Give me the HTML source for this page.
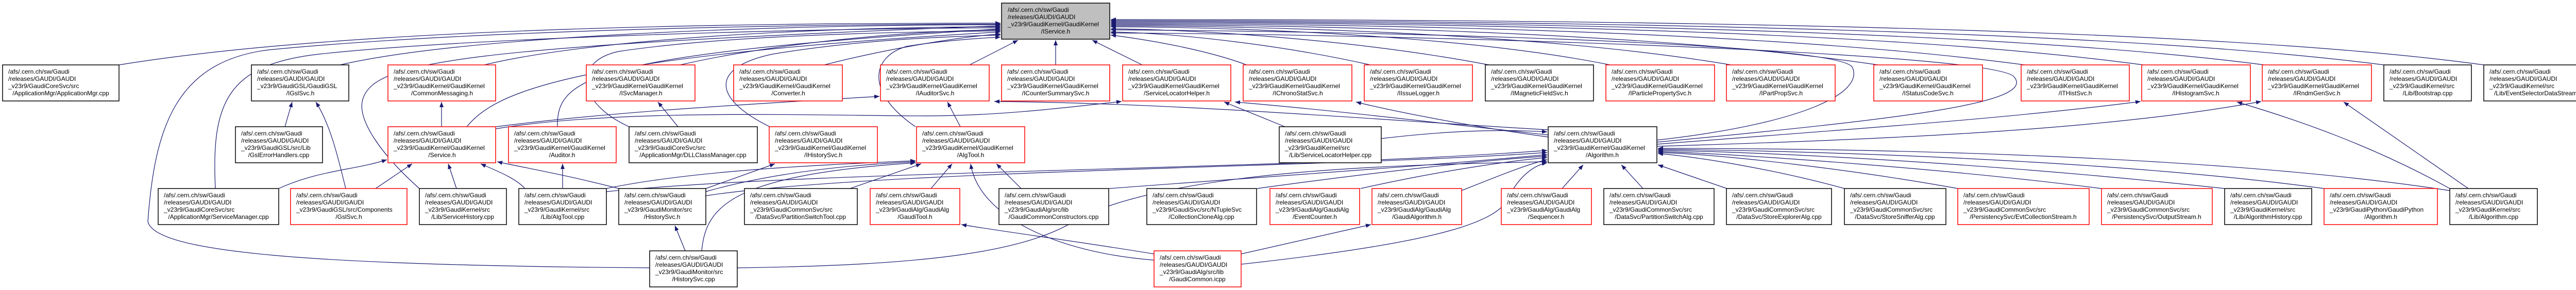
<!DOCTYPE html>
<html><head><meta charset="utf-8"><style>
html,body{margin:0;padding:0;background:#fff;}
svg{display:block;}
text{font-family:"Liberation Sans",Arial,sans-serif;font-size:12px;fill:#000;}
.e{fill:none;stroke:#191970;stroke-width:1.2;marker-end:url(#a);}
</style></head><body>
<svg width="5051" height="563" viewBox="0 0 5051 563" xmlns="http://www.w3.org/2000/svg">
<defs><marker id="a" markerWidth="11" markerHeight="8" refX="10" refY="4" orient="auto" markerUnits="userSpaceOnUse"><path d="M0,0 L10,4 L0,8z" fill="#191970"/></marker></defs>
<g id="edges">
<!-- row1 -> IService -->
<path class="e" d="M231,126 C700,50 1500,45 1942,45"/>
<path class="e" d="M660,126 C900,70 1500,48 1942,48"/>
<path class="e" d="M940,126 C1150,75 1600,52 1942,52"/>
<path class="e" d="M1320,126 C1500,85 1750,60 1942,58"/>
<path class="e" d="M1600,126 C1700,100 1850,72 1942,66"/>
<path class="e" d="M1882,126 L1976,78"/>
<path class="e" d="M2049,126 L2049,78"/>
<path class="e" d="M2217,126 L2120,78"/>
<path class="e" d="M2420,126 C2350,100 2250,80 2156,68"/>
<path class="e" d="M2660,126 C2500,90 2300,65 2156,62"/>
<path class="e" d="M2890,126 C2650,80 2350,58 2156,56"/>
<path class="e" d="M3125,126 C2850,70 2400,52 2156,52"/>
<path class="e" d="M3360,126 C3000,65 2450,50 2156,50"/>
<path class="e" d="M3645,126 C3200,60 2500,48 2156,48"/>
<path class="e" d="M3930,126 C3400,55 2550,46 2156,46"/>
<path class="e" d="M4160,126 C3600,50 2600,44 2156,44"/>
<path class="e" d="M4395,126 C3800,48 2650,42 2156,42"/>
<path class="e" d="M4627,126 C4000,45 2700,40 2156,40"/>
<path class="e" d="M4821,126 C4200,40 2750,38 2156,38"/>
<!-- others -> IService -->
<path class="e" d="M418,366 C410,200 440,125 620,105 C900,75 1500,56 1942,54"/>
<path class="e" d="M814,366 C740,300 690,230 705,190 C730,120 900,90 1942,50"/>
<path class="e" d="M1261,520 C600,515 300,490 287,430 C300,250 340,120 520,97 C900,60 1500,47 1942,47"/>
<path class="e" d="M906,246 C960,180 1100,110 1942,62"/>
<path class="e" d="M1082,246 C1080,150 1150,105 1942,56"/>
<path class="e" d="M1221,246 C1120,200 1110,120 1200,100 C1400,70 1700,62 1942,60"/>
<path class="e" d="M1494,246 C1380,190 1380,130 1500,105 C1650,80 1800,72 1942,68"/>
<path class="e" d="M1777,246 C1680,180 1690,110 1760,90 C1820,80 1900,74 1942,72"/>
<path class="e" d="M3216,272 C3500,240 3620,180 3595,130 C3560,80 2600,60 2156,58"/>
<path class="e" d="M3216,276 C3700,230 3950,200 3910,150 C3880,100 2700,66 2156,64"/>
<!-- row2 -> row1 -->
<path class="e" d="M553,246 L567,198"/>
<path class="e" d="M671,366 C655,300 640,240 613,198"/>
<path class="e" d="M857,246 L857,198"/>
<path class="e" d="M963,246 C1200,215 1500,200 1707,187"/>
<path class="e" d="M963,250 C1200,210 1600,225 1800,225 C1950,225 2100,205 2177,197"/>
<path class="e" d="M1316,246 L1277,198"/>
<path class="e" d="M1864,246 L1839,198"/>
<path class="e" d="M3005,252 C2700,235 2300,200 1930,197"/>
<path class="e" d="M2494,246 L2376,198"/>
<path class="e" d="M3005,262 C2800,240 2600,215 2397,198"/>
<path class="e" d="M3005,266 C2850,245 2700,215 2632,198"/>
<path class="e" d="M3216,280 C3600,250 3900,230 4155,197"/>
<path class="e" d="M3216,284 C3700,270 4100,250 4389,197"/>
<path class="e" d="M4791,366 L4549,198"/>
<path class="e" d="M4755,366 C4600,280 4450,230 4342,198"/>
<path class="e" d="M2681,269 C2800,255 2900,250 3003,256"/>
<!-- row3 -> row2 -->
<path class="e" d="M541,366 C620,330 690,330 751,310"/>
<path class="e" d="M729,366 L800,318"/>
<path class="e" d="M886,366 L870,318"/>
<path class="e" d="M1019,366 C1000,345 960,330 933,318"/>
<path class="e" d="M1201,366 C1100,340 1040,330 965,314"/>
<path class="e" d="M1092,366 L1092,318"/>
<path class="e" d="M1177,366 C1350,330 1600,320 1777,312"/>
<path class="e" d="M1370,366 L1504,318"/>
<path class="e" d="M1370,372 C1500,335 1650,320 1777,314"/>
<path class="e" d="M1650,366 L1788,318"/>
<path class="e" d="M1807,366 L1848,318"/>
<path class="e" d="M1982,366 L1934,318"/>
<path class="e" d="M1177,372 C1600,330 2500,330 3003,292"/>
<path class="e" d="M1370,380 C1700,330 2600,325 3003,296"/>
<path class="e" d="M2153,366 C2500,340 2800,320 3003,300"/>
<path class="e" d="M2440,366 C2700,330 2900,310 3003,303"/>
<path class="e" d="M2641,366 C2800,330 2950,310 3003,306"/>
<path class="e" d="M2837,370 C2900,345 2960,320 3003,310"/>
<path class="e" d="M3032,366 L3073,320"/>
<path class="e" d="M3189,366 L3147,320"/>
<path class="e" d="M3352,366 L3218,320"/>
<path class="e" d="M3580,366 C3450,330 3300,305 3218,298"/>
<path class="e" d="M3800,366 C3600,330 3350,300 3218,296"/>
<path class="e" d="M4079,366 C3800,330 3400,300 3218,294"/>
<path class="e" d="M4318,366 C3900,320 3450,295 3218,292"/>
<path class="e" d="M4511,366 C4100,310 3500,292 3218,290"/>
<path class="e" d="M4755,370 C4300,300 3600,288 3218,288"/>
<!-- row4 -->
<path class="e" d="M1330,487 L1310,438"/>
<path class="e" d="M1362,487 C1370,400 1420,340 1777,316"/>
<path class="e" d="M1431,520 C1800,515 2000,490 2100,420 C2300,330 2700,320 3003,314"/>
<path class="e" d="M2240,493 C2100,470 1950,450 1866,436"/>
<path class="e" d="M2240,505 C2050,490 1900,420 1884,318"/>
<path class="e" d="M2409,493 L2661,436"/>
<path class="e" d="M2409,513 C2800,470 2912,430 2930,380 C2950,340 2980,320 3003,316"/>
</g>
<g id="boxes" stroke-width="1.5">
<rect x="1944" y="6" width="210" height="70" fill="#bfbfbf" stroke="#000"/>
<text x="1956" y="23">/afs/.cern.ch/sw/Gaudi</text><text x="1956" y="37">/releases/GAUDI/GAUDI</text><text x="1956" y="51">_v23r9/GaudiKernel/GaudiKernel</text><text x="2049" y="65" text-anchor="middle">/IService.h</text>
</g>
<g id="nodes" stroke-width="1.5">
<!-- generated boxes -->
<rect x="5" y="126" width="226" height="70" fill="#fff" stroke="#000"/><text x="16" y="143">/afs/.cern.ch/sw/Gaudi</text><text x="16" y="157">/releases/GAUDI/GAUDI</text><text x="16" y="171">_v23r9/GaudiCoreSvc/src</text><text x="118" y="185" text-anchor="middle">/ApplicationMgr/ApplicationMgr.cpp</text>
<rect x="488" y="126" width="189" height="70" fill="#fff" stroke="#000"/><text x="499" y="143">/afs/.cern.ch/sw/Gaudi</text><text x="499" y="157">/releases/GAUDI/GAUDI</text><text x="499" y="171">_v23r9/GaudiGSL/GaudiGSL</text><text x="583" y="185" text-anchor="middle">/IGslSvc.h</text>
<rect x="753" y="126" width="209" height="70" fill="#fff" stroke="#f00"/><text x="764" y="143">/afs/.cern.ch/sw/Gaudi</text><text x="764" y="157">/releases/GAUDI/GAUDI</text><text x="764" y="171">_v23r9/GaudiKernel/GaudiKernel</text><text x="858" y="185" text-anchor="middle">/CommonMessaging.h</text>
<rect x="1138" y="126" width="211" height="70" fill="#fff" stroke="#f00"/><text x="1149" y="143">/afs/.cern.ch/sw/Gaudi</text><text x="1149" y="157">/releases/GAUDI/GAUDI</text><text x="1149" y="171">_v23r9/GaudiKernel/GaudiKernel</text><text x="1244" y="185" text-anchor="middle">/ISvcManager.h</text>
<rect x="1424" y="126" width="211" height="70" fill="#fff" stroke="#f00"/><text x="1435" y="143">/afs/.cern.ch/sw/Gaudi</text><text x="1435" y="157">/releases/GAUDI/GAUDI</text><text x="1435" y="171">_v23r9/GaudiKernel/GaudiKernel</text><text x="1530" y="185" text-anchor="middle">/Converter.h</text>
<rect x="1709" y="126" width="211" height="70" fill="#fff" stroke="#f00"/><text x="1720" y="143">/afs/.cern.ch/sw/Gaudi</text><text x="1720" y="157">/releases/GAUDI/GAUDI</text><text x="1720" y="171">_v23r9/GaudiKernel/GaudiKernel</text><text x="1815" y="185" text-anchor="middle">/IAuditorSvc.h</text>
<rect x="1944" y="126" width="210" height="70" fill="#fff" stroke="#f00"/><text x="1955" y="143">/afs/.cern.ch/sw/Gaudi</text><text x="1955" y="157">/releases/GAUDI/GAUDI</text><text x="1955" y="171">_v23r9/GaudiKernel/GaudiKernel</text><text x="2049" y="185" text-anchor="middle">/ICounterSummarySvc.h</text>
<rect x="2179" y="126" width="210" height="70" fill="#fff" stroke="#f00"/><text x="2190" y="143">/afs/.cern.ch/sw/Gaudi</text><text x="2190" y="157">/releases/GAUDI/GAUDI</text><text x="2190" y="171">_v23r9/GaudiKernel/GaudiKernel</text><text x="2284" y="185" text-anchor="middle">/ServiceLocatorHelper.h</text>
<rect x="2413" y="126" width="211" height="70" fill="#fff" stroke="#f00"/><text x="2424" y="143">/afs/.cern.ch/sw/Gaudi</text><text x="2424" y="157">/releases/GAUDI/GAUDI</text><text x="2424" y="171">_v23r9/GaudiKernel/GaudiKernel</text><text x="2519" y="185" text-anchor="middle">/IChronoStatSvc.h</text>
<rect x="2648" y="126" width="210" height="70" fill="#fff" stroke="#f00"/><text x="2659" y="143">/afs/.cern.ch/sw/Gaudi</text><text x="2659" y="157">/releases/GAUDI/GAUDI</text><text x="2659" y="171">_v23r9/GaudiKernel/GaudiKernel</text><text x="2753" y="185" text-anchor="middle">/IIssueLogger.h</text>
<rect x="2883" y="126" width="210" height="70" fill="#fff" stroke="#000"/><text x="2894" y="143">/afs/.cern.ch/sw/Gaudi</text><text x="2894" y="157">/releases/GAUDI/GAUDI</text><text x="2894" y="171">_v23r9/GaudiKernel/GaudiKernel</text><text x="2988" y="185" text-anchor="middle">/IMagneticFieldSvc.h</text>
<rect x="3117" y="126" width="211" height="70" fill="#fff" stroke="#f00"/><text x="3128" y="143">/afs/.cern.ch/sw/Gaudi</text><text x="3128" y="157">/releases/GAUDI/GAUDI</text><text x="3128" y="171">_v23r9/GaudiKernel/GaudiKernel</text><text x="3222" y="185" text-anchor="middle">/IParticlePropertySvc.h</text>
<rect x="3351" y="126" width="211" height="70" fill="#fff" stroke="#f00"/><text x="3362" y="143">/afs/.cern.ch/sw/Gaudi</text><text x="3362" y="157">/releases/GAUDI/GAUDI</text><text x="3362" y="171">_v23r9/GaudiKernel/GaudiKernel</text><text x="3457" y="185" text-anchor="middle">/IPartPropSvc.h</text>
<rect x="3637" y="126" width="211" height="70" fill="#fff" stroke="#f00"/><text x="3648" y="143">/afs/.cern.ch/sw/Gaudi</text><text x="3648" y="157">/releases/GAUDI/GAUDI</text><text x="3648" y="171">_v23r9/GaudiKernel/GaudiKernel</text><text x="3742" y="185" text-anchor="middle">/IStatusCodeSvc.h</text>
<rect x="3923" y="126" width="210" height="70" fill="#fff" stroke="#f00"/><text x="3934" y="143">/afs/.cern.ch/sw/Gaudi</text><text x="3934" y="157">/releases/GAUDI/GAUDI</text><text x="3934" y="171">_v23r9/GaudiKernel/GaudiKernel</text><text x="4028" y="185" text-anchor="middle">/ITHistSvc.h</text>
<rect x="4157" y="126" width="211" height="70" fill="#fff" stroke="#f00"/><text x="4168" y="143">/afs/.cern.ch/sw/Gaudi</text><text x="4168" y="157">/releases/GAUDI/GAUDI</text><text x="4168" y="171">_v23r9/GaudiKernel/GaudiKernel</text><text x="4262" y="185" text-anchor="middle">/IHistogramSvc.h</text>
<rect x="4391" y="126" width="212" height="70" fill="#fff" stroke="#f00"/><text x="4402" y="143">/afs/.cern.ch/sw/Gaudi</text><text x="4402" y="157">/releases/GAUDI/GAUDI</text><text x="4402" y="171">_v23r9/GaudiKernel/GaudiKernel</text><text x="4497" y="185" text-anchor="middle">/IRndmGenSvc.h</text>
<rect x="4627" y="126" width="170" height="70" fill="#fff" stroke="#000"/><text x="4638" y="143">/afs/.cern.ch/sw/Gaudi</text><text x="4638" y="157">/releases/GAUDI/GAUDI</text><text x="4638" y="171">_v23r9/GaudiKernel/src</text><text x="4712" y="185" text-anchor="middle">/Lib/Bootstrap.cpp</text>
<rect x="4821" y="126" width="225" height="70" fill="#fff" stroke="#000"/><text x="4832" y="143">/afs/.cern.ch/sw/Gaudi</text><text x="4832" y="157">/releases/GAUDI/GAUDI</text><text x="4832" y="171">_v23r9/GaudiKernel/src</text><text x="4933" y="185" text-anchor="middle">/Lib/EventSelectorDataStream.cpp</text>

<rect x="457" y="246" width="169" height="70" fill="#fff" stroke="#000"/><text x="468" y="263">/afs/.cern.ch/sw/Gaudi</text><text x="468" y="277">/releases/GAUDI/GAUDI</text><text x="468" y="291">_v23r9/GaudiGSL/src/Lib</text><text x="541" y="305" text-anchor="middle">/GslErrorHandlers.cpp</text>
<rect x="753" y="246" width="209" height="70" fill="#fff" stroke="#f00"/><text x="764" y="263">/afs/.cern.ch/sw/Gaudi</text><text x="764" y="277">/releases/GAUDI/GAUDI</text><text x="764" y="291">_v23r9/GaudiKernel/GaudiKernel</text><text x="858" y="305" text-anchor="middle">/Service.h</text>
<rect x="987" y="246" width="209" height="70" fill="#fff" stroke="#f00"/><text x="998" y="263">/afs/.cern.ch/sw/Gaudi</text><text x="998" y="277">/releases/GAUDI/GAUDI</text><text x="998" y="291">_v23r9/GaudiKernel/GaudiKernel</text><text x="1091" y="305" text-anchor="middle">/Auditor.h</text>
<rect x="1221" y="246" width="249" height="70" fill="#fff" stroke="#000"/><text x="1232" y="263">/afs/.cern.ch/sw/Gaudi</text><text x="1232" y="277">/releases/GAUDI/GAUDI</text><text x="1232" y="291">_v23r9/GaudiCoreSvc/src</text><text x="1345" y="305" text-anchor="middle">/ApplicationMgr/DLLClassManager.cpp</text>
<rect x="1493" y="246" width="210" height="70" fill="#fff" stroke="#f00"/><text x="1504" y="263">/afs/.cern.ch/sw/Gaudi</text><text x="1504" y="277">/releases/GAUDI/GAUDI</text><text x="1504" y="291">_v23r9/GaudiKernel/GaudiKernel</text><text x="1598" y="305" text-anchor="middle">/IHistorySvc.h</text>
<rect x="1779" y="246" width="210" height="70" fill="#fff" stroke="#f00"/><text x="1790" y="263">/afs/.cern.ch/sw/Gaudi</text><text x="1790" y="277">/releases/GAUDI/GAUDI</text><text x="1790" y="291">_v23r9/GaudiKernel/GaudiKernel</text><text x="1884" y="305" text-anchor="middle">/AlgTool.h</text>
<rect x="2483" y="246" width="198" height="70" fill="#fff" stroke="#000"/><text x="2494" y="263">/afs/.cern.ch/sw/Gaudi</text><text x="2494" y="277">/releases/GAUDI/GAUDI</text><text x="2494" y="291">_v23r9/GaudiKernel/src</text><text x="2582" y="305" text-anchor="middle">/Lib/ServiceLocatorHelper.cpp</text>
<rect x="3005" y="246" width="211" height="70" fill="#fff" stroke="#000"/><text x="3016" y="263">/afs/.cern.ch/sw/Gaudi</text><text x="3016" y="277">/releases/GAUDI/GAUDI</text><text x="3016" y="291">_v23r9/GaudiKernel/GaudiKernel</text><text x="3110" y="305" text-anchor="middle">/Algorithm.h</text>

<rect x="307" y="366" width="234" height="70" fill="#fff" stroke="#000"/><text x="318" y="383">/afs/.cern.ch/sw/Gaudi</text><text x="318" y="397">/releases/GAUDI/GAUDI</text><text x="318" y="411">_v23r9/GaudiCoreSvc/src</text><text x="424" y="425" text-anchor="middle">/ApplicationMgr/ServiceManager.cpp</text>
<rect x="564" y="366" width="226" height="70" fill="#fff" stroke="#f00"/><text x="575" y="383">/afs/.cern.ch/sw/Gaudi</text><text x="575" y="397">/releases/GAUDI/GAUDI</text><text x="575" y="411">_v23r9/GaudiGSL/src/Components</text><text x="677" y="425" text-anchor="middle">/GslSvc.h</text>
<rect x="814" y="366" width="169" height="70" fill="#fff" stroke="#000"/><text x="825" y="383">/afs/.cern.ch/sw/Gaudi</text><text x="825" y="397">/releases/GAUDI/GAUDI</text><text x="825" y="411">_v23r9/GaudiKernel/src</text><text x="898" y="425" text-anchor="middle">/Lib/ServiceHistory.cpp</text>
<rect x="1007" y="366" width="170" height="70" fill="#fff" stroke="#000"/><text x="1018" y="383">/afs/.cern.ch/sw/Gaudi</text><text x="1018" y="397">/releases/GAUDI/GAUDI</text><text x="1018" y="411">_v23r9/GaudiKernel/src</text><text x="1092" y="425" text-anchor="middle">/Lib/AlgTool.cpp</text>
<rect x="1201" y="366" width="169" height="70" fill="#fff" stroke="#000"/><text x="1212" y="383">/afs/.cern.ch/sw/Gaudi</text><text x="1212" y="397">/releases/GAUDI/GAUDI</text><text x="1212" y="411">_v23r9/GaudiMonitor/src</text><text x="1285" y="425" text-anchor="middle">/HistorySvc.h</text>
<rect x="1445" y="366" width="219" height="70" fill="#fff" stroke="#000"/><text x="1456" y="383">/afs/.cern.ch/sw/Gaudi</text><text x="1456" y="397">/releases/GAUDI/GAUDI</text><text x="1456" y="411">_v23r9/GaudiCommonSvc/src</text><text x="1554" y="425" text-anchor="middle">/DataSvc/PartitionSwitchTool.cpp</text>
<rect x="1689" y="366" width="174" height="70" fill="#fff" stroke="#f00"/><text x="1700" y="383">/afs/.cern.ch/sw/Gaudi</text><text x="1700" y="397">/releases/GAUDI/GAUDI</text><text x="1700" y="411">_v23r9/GaudiAlg/GaudiAlg</text><text x="1776" y="425" text-anchor="middle">/GaudiTool.h</text>
<rect x="1939" y="366" width="213" height="70" fill="#fff" stroke="#000"/><text x="1950" y="383">/afs/.cern.ch/sw/Gaudi</text><text x="1950" y="397">/releases/GAUDI/GAUDI</text><text x="1950" y="411">_v23r9/GaudiAlg/src/lib</text><text x="2045" y="425" text-anchor="middle">/GaudiCommonConstructors.cpp</text>
<rect x="2226" y="366" width="213" height="70" fill="#fff" stroke="#000"/><text x="2237" y="383">/afs/.cern.ch/sw/Gaudi</text><text x="2237" y="397">/releases/GAUDI/GAUDI</text><text x="2237" y="411">_v23r9/GaudiSvc/src/NTupleSvc</text><text x="2332" y="425" text-anchor="middle">/CollectionCloneAlg.cpp</text>
<rect x="2465" y="366" width="174" height="70" fill="#fff" stroke="#f00"/><text x="2476" y="383">/afs/.cern.ch/sw/Gaudi</text><text x="2476" y="397">/releases/GAUDI/GAUDI</text><text x="2476" y="411">_v23r9/GaudiAlg/GaudiAlg</text><text x="2552" y="425" text-anchor="middle">/EventCounter.h</text>
<rect x="2663" y="366" width="174" height="70" fill="#fff" stroke="#f00"/><text x="2674" y="383">/afs/.cern.ch/sw/Gaudi</text><text x="2674" y="397">/releases/GAUDI/GAUDI</text><text x="2674" y="411">_v23r9/GaudiAlg/GaudiAlg</text><text x="2750" y="425" text-anchor="middle">/GaudiAlgorithm.h</text>
<rect x="2914" y="366" width="175" height="70" fill="#fff" stroke="#f00"/><text x="2925" y="383">/afs/.cern.ch/sw/Gaudi</text><text x="2925" y="397">/releases/GAUDI/GAUDI</text><text x="2925" y="411">_v23r9/GaudiAlg/GaudiAlg</text><text x="3001" y="425" text-anchor="middle">/Sequencer.h</text>
<rect x="3113" y="366" width="214" height="70" fill="#fff" stroke="#000"/><text x="3124" y="383">/afs/.cern.ch/sw/Gaudi</text><text x="3124" y="397">/releases/GAUDI/GAUDI</text><text x="3124" y="411">_v23r9/GaudiCommonSvc/src</text><text x="3220" y="425" text-anchor="middle">/DataSvc/PartitionSwitchAlg.cpp</text>
<rect x="3351" y="366" width="204" height="70" fill="#fff" stroke="#000"/><text x="3362" y="383">/afs/.cern.ch/sw/Gaudi</text><text x="3362" y="397">/releases/GAUDI/GAUDI</text><text x="3362" y="411">_v23r9/GaudiCommonSvc/src</text><text x="3453" y="425" text-anchor="middle">/DataSvc/StoreExplorerAlg.cpp</text>
<rect x="3580" y="366" width="197" height="70" fill="#fff" stroke="#000"/><text x="3591" y="383">/afs/.cern.ch/sw/Gaudi</text><text x="3591" y="397">/releases/GAUDI/GAUDI</text><text x="3591" y="411">_v23r9/GaudiCommonSvc/src</text><text x="3678" y="425" text-anchor="middle">/DataSvc/StoreSnifferAlg.cpp</text>
<rect x="3800" y="366" width="255" height="70" fill="#fff" stroke="#f00"/><text x="3811" y="383">/afs/.cern.ch/sw/Gaudi</text><text x="3811" y="397">/releases/GAUDI/GAUDI</text><text x="3811" y="411">_v23r9/GaudiCommonSvc/src</text><text x="3927" y="425" text-anchor="middle">/PersistencySvc/EvtCollectionStream.h</text>
<rect x="4079" y="366" width="215" height="70" fill="#fff" stroke="#f00"/><text x="4090" y="383">/afs/.cern.ch/sw/Gaudi</text><text x="4090" y="397">/releases/GAUDI/GAUDI</text><text x="4090" y="411">_v23r9/GaudiCommonSvc/src</text><text x="4186" y="425" text-anchor="middle">/PersistencySvc/OutputStream.h</text>
<rect x="4318" y="366" width="169" height="70" fill="#fff" stroke="#000"/><text x="4329" y="383">/afs/.cern.ch/sw/Gaudi</text><text x="4329" y="397">/releases/GAUDI/GAUDI</text><text x="4329" y="411">_v23r9/GaudiKernel/src</text><text x="4402" y="425" text-anchor="middle">/Lib/AlgorithmHistory.cpp</text>
<rect x="4511" y="366" width="220" height="70" fill="#fff" stroke="#f00"/><text x="4522" y="383">/afs/.cern.ch/sw/Gaudi</text><text x="4522" y="397">/releases/GAUDI/GAUDI</text><text x="4522" y="411">_v23r9/GaudiPython/GaudiPython</text><text x="4621" y="425" text-anchor="middle">/Algorithm.h</text>
<rect x="4755" y="366" width="170" height="70" fill="#fff" stroke="#000"/><text x="4766" y="383">/afs/.cern.ch/sw/Gaudi</text><text x="4766" y="397">/releases/GAUDI/GAUDI</text><text x="4766" y="411">_v23r9/GaudiKernel/src</text><text x="4840" y="425" text-anchor="middle">/Lib/Algorithm.cpp</text>

<rect x="1261" y="487" width="170" height="70" fill="#fff" stroke="#000"/><text x="1272" y="504">/afs/.cern.ch/sw/Gaudi</text><text x="1272" y="518">/releases/GAUDI/GAUDI</text><text x="1272" y="532">_v23r9/GaudiMonitor/src</text><text x="1346" y="546" text-anchor="middle">/HistorySvc.cpp</text>
<rect x="2240" y="487" width="169" height="70" fill="#fff" stroke="#f00"/><text x="2251" y="504">/afs/.cern.ch/sw/Gaudi</text><text x="2251" y="518">/releases/GAUDI/GAUDI</text><text x="2251" y="532">_v23r9/GaudiAlg/src/lib</text><text x="2324" y="546" text-anchor="middle">/GaudiCommon.icpp</text>
</g>
</svg>
</body></html>
